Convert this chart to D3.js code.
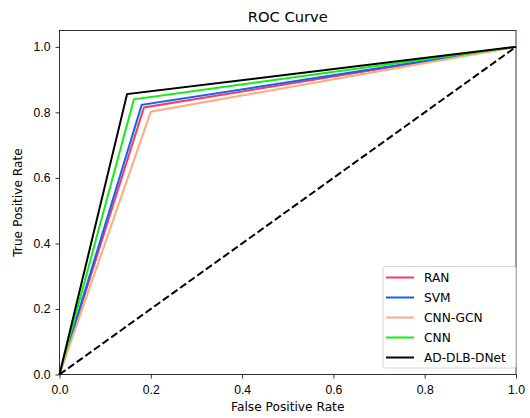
<!DOCTYPE html>
<html lang="en">
<head>
    <meta charset="UTF-8">
    <title>ROC Curve</title>
    <script src="https://cdn.jsdelivr.net/npm/d3@7"></script>
    <style>
        body { margin: 0; background: #fff; }
        svg { font-family: "DejaVu Sans", sans-serif; }
    </style>
</head>
<body>
    <div id="graphic"></div>
<script>
    // model names and their ROC corner points (fpr, tpr)
    var models = ['RAN', 'SVM', 'CNN-GCN', 'CNN', 'AD-DLB-DNet'];
    var fprPoints = [0.185, 0.18, 0.2, 0.163, 0.148];
    var tprPoints = [0.815, 0.823, 0.802, 0.84, 0.856];
    var colors = ['#ff3a55', '#0f62fe', '#ffaa80', '#11ee11', '#000000'];
    var xTicks = [0, 0.2, 0.4, 0.6, 0.8, 1.0];
    var yTicks = [0, 0.2, 0.4, 0.6, 0.8, 1.0];

    var width = 530, height = 418;
    var margin = {left: 59.5, right: 14, top: 30.5, bottom: 43.5};
    var fs = 12.2;

    var svg = d3.select('#graphic')
        .append('svg')
        .attr('width', width)
        .attr('height', height);

    var x = d3.scaleLinear().domain([0, 1]).range([margin.left, width - margin.right]);
    var y = d3.scaleLinear().domain([0, 1.05]).range([height - margin.bottom, margin.top]);

    // build the curves: (0,0) -> corner -> (1,1)
    var curves = models.map(function(m, i) {
        return {name: m, color: colors[i], pts: [[0, 0], [fprPoints[i], tprPoints[i]], [1, 1]]};
    });

    var line = d3.line().x(d => x(d[0])).y(d => y(d[1]));

    var plot = svg.append('g');

    plot.selectAll('.roc')
        .data(curves)
        .join('path')
        .attr('class', 'roc')
        .attr('d', d => line(d.pts))
        .attr('fill', 'none')
        .attr('stroke', d => d.color)
        .attr('stroke-width', 2)
        .attr('stroke-linejoin', 'miter');

    // chance line
    plot.append('path')
        .attr('d', line([[0, 0], [1, 1]]))
        .attr('fill', 'none')
        .attr('stroke', '#000')
        .attr('stroke-width', 2)
        .attr('stroke-dasharray', '7.4,3.2');

    // axes
    var xAxis = svg.append('g')
        .attr('transform', 'translate(0,' + (height - margin.bottom) + ')')
        .call(d3.axisBottom(x).tickValues(xTicks).tickFormat(d3.format('.1f')).tickSizeInner(4).tickSizeOuter(0).tickPadding(7));
    var yAxis = svg.append('g')
        .attr('transform', 'translate(' + margin.left + ',0)')
        .call(d3.axisLeft(y).tickValues(yTicks).tickFormat(d3.format('.1f')).tickSizeInner(4).tickSizeOuter(0).tickPadding(5));

    [xAxis, yAxis].forEach(function(a) {
        a.select('.domain').remove();
        a.selectAll('line').attr('stroke', '#000').attr('stroke-width', 0.8);
        a.selectAll('text').attr('font-size', fs).attr('fill', '#000');
    });

    // frame
    svg.append('rect')
        .attr('x', margin.left)
        .attr('y', margin.top)
        .attr('width', width - margin.left - margin.right)
        .attr('height', height - margin.top - margin.bottom)
        .attr('fill', 'none')
        .attr('stroke', '#000')
        .attr('stroke-width', 0.8);

    // titles
    svg.append('text')
        .attr('x', (margin.left + width - margin.right) / 2)
        .attr('y', 21.5)
        .attr('text-anchor', 'middle')
        .attr('font-size', 14.7)
        .text('ROC Curve');

    svg.append('text')
        .attr('x', (margin.left + width - margin.right) / 2)
        .attr('y', 410.5)
        .attr('text-anchor', 'middle')
        .attr('font-size', fs)
        .text('False Positive Rate');

    svg.append('text')
        .attr('transform', 'translate(22,' + (margin.top + height - margin.bottom) / 2 + ') rotate(-90)')
        .attr('text-anchor', 'middle')
        .attr('font-size', fs)
        .text('True Positive Rate');

    // legend
    var legend = svg.append('g').attr('transform', 'translate(383,266.5)');
    legend.append('rect')
        .attr('width', 133)
        .attr('height', 101.5)
        .attr('rx', 2)
        .attr('fill', '#fff')
        .attr('fill-opacity', 0.8)
        .attr('stroke', '#ccc')
        .attr('stroke-width', 0.8);

    var items = legend.selectAll('.item')
        .data(curves)
        .join('g')
        .attr('class', 'item')
        .attr('transform', (d, i) => 'translate(0,' + (11 + i * 20) + ')');

    items.append('line')
        .attr('x1', 3).attr('x2', 31)
        .attr('stroke', d => d.color)
        .attr('stroke-width', 2);

    items.append('text')
        .attr('x', 41)
        .attr('y', 4.4)
        .attr('font-size', fs)
        .text(d => d.name);
</script>
</body>
</html>
